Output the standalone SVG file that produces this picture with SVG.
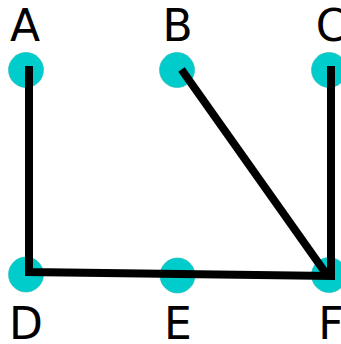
<svg xmlns="http://www.w3.org/2000/svg" width="341" height="344" viewBox="0 0 341 344">
<style>
.node circle{fill:#00cccc;stroke:#1fb5b5;stroke-width:0.6}
.node text{font-family:"DejaVu Sans",sans-serif;font-size:44px;fill:#000;text-anchor:middle}
.edge{fill:none;stroke:#000;stroke-width:8;stroke-linejoin:miter;stroke-linecap:butt}
</style>
<rect width="341" height="344" fill="#fff"/>
<g id="node-A" class="node"><circle cx="26" cy="70" r="17.5"/><text x="25" y="41">A</text></g>
<g id="node-B" class="node"><circle cx="177" cy="70" r="17.5"/><text x="177.5" y="41">B</text></g>
<g id="node-C" class="node"><circle cx="329" cy="70" r="17.5"/><text x="331" y="41">C</text></g>
<g id="node-D" class="node"><circle cx="26" cy="274.5" r="17.5"/><text x="26" y="339">D</text></g>
<g id="node-E" class="node"><circle cx="177.5" cy="275.5" r="17.5"/><text x="178" y="339">E</text></g>
<g id="node-F" class="node"><circle cx="329" cy="275" r="17.5"/><text x="331" y="339">F</text></g>
<g id="connectors">
<path class="edge" d="M29,66 L29,272 L331,276 L331,66"/>
<path class="edge" d="M181.5,69.5 L327,275"/>
</g>
</svg>
